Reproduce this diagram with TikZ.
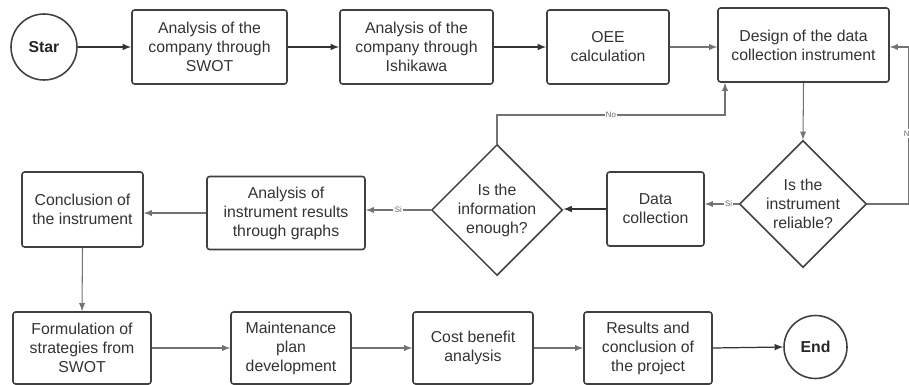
\documentclass[tikz,border=0pt]{standalone}
\usepackage{fontspec}
\setsansfont{Liberation Sans}
\usetikzlibrary{arrows,shapes.geometric}

\tikzset{
  box/.style={draw=black!75, line width=0.9pt, rounded corners=1.5pt, align=center,
    inner sep=2pt, font=\sffamily\fontsize{9}{10.8}\selectfont, text=black!80},
  decision/.style={diamond, draw=black!75, line width=0.9pt, align=center, inner sep=0pt,
    font=\sffamily\fontsize{9}{10.8}\selectfont, text=black!80},
  terminal/.style={circle, draw=black!75, line width=0.9pt, inner sep=0pt,
    font=\sffamily\bfseries\fontsize{9}{10.8}\selectfont, text=black!85},
  flow/.style={->, >=latex, draw=black!80, line width=0.7pt},
  thin flow/.style={->, >=latex, draw=black!55, line width=0.6pt},
  lbl/.style={fill=white, inner sep=0.8pt, font=\sffamily\fontsize{4.5}{5}\selectfont, text=black!60}
}

\begin{document}
\begin{tikzpicture}[x=0.02cm, y=-0.02cm]
\useasboundingbox (0,0) rectangle (909,385);

% first row
\node[terminal, minimum size=1.32cm] (star) at (44,47) {Star};
\node[box, minimum width=3.1cm, minimum height=1.48cm] (swot) at (209.5,47) {Analysis of the\\company through\\SWOT};
\node[box, minimum width=3.06cm, minimum height=1.48cm] (ishikawa) at (416.5,47) {Analysis of the\\company through\\Ishikawa};
\node[box, minimum width=2.44cm, minimum height=1.48cm] (oee) at (608,47) {OEE\\calculation};
\node[box, minimum width=3.42cm, minimum height=1.48cm] (design) at (803.5,45) {Design of the data\\collection instrument};

% second row
\node[decision, minimum width=2.54cm, minimum height=2.54cm] (reliable) at (803,204) {Is the\\instrument\\reliable?};
\node[box, minimum width=1.94cm, minimum height=1.48cm] (data) at (655.5,209) {Data\\collection};
\node[decision, minimum width=2.6cm, minimum height=2.52cm] (enough) at (497,210) {Is the\\information\\enough?};
\node[box, minimum width=3.16cm, minimum height=1.46cm] (graphs) at (286,213) {Analysis of\\instrument results\\through graphs};
\node[box, minimum width=2.42cm, minimum height=1.5cm] (conclusion) at (82.5,209.5) {Conclusion of\\the instrument};

% third row
\node[box, minimum width=2.76cm, minimum height=1.44cm] (strategies) at (82,348) {Formulation of\\strategies from\\SWOT};
\node[box, minimum width=2.4cm, minimum height=1.44cm] (maintenance) at (291,348) {Maintenance\\plan\\development};
\node[box, minimum width=2.4cm, minimum height=1.44cm] (cost) at (473,348) {Cost benefit\\analysis};
\node[box, minimum width=2.56cm, minimum height=1.44cm] (results) at (648,348) {Results and\\conclusion of\\the project};
\node[terminal, minimum size=1.26cm] (end) at (815.5,347) {End};

\coordinate (noturn) at (725,115);
\coordinate (loopdown) at (909,204);
\coordinate (loopup) at (909,47);

\draw[flow] (star) -- (swot);
\draw[flow] (swot) -- (ishikawa);
\draw[flow] (ishikawa) -- (oee);
\draw[thin flow] (oee.east) -- (oee.east -| design.west);
\draw[thin flow] (design.south) -- (reliable.north);
\draw[thin flow] (reliable.west) -- node[lbl, pos=0.3] {Si} (reliable.west -| data.east);
\draw[flow] (data.west) -- (data.west -| enough.east);
\draw[thin flow] (enough.north) |- node[lbl, pos=0.75] {No} (noturn) -- (noturn |- design.south);
\draw[thin flow] (reliable.east) -- (loopdown) -- node[lbl, pos=0.45] {No} (loopup) -- (loopup -| design.east);
\draw[thin flow] (enough.west) -- node[lbl, pos=0.5] {Si} (enough.west -| graphs.east);
\draw[thin flow] (graphs.west) -- (graphs.west -| conclusion.east);
\draw[thin flow] (conclusion.south) -- (strategies.north);
\draw[thin flow] (strategies) -- (maintenance);
\draw[thin flow] (maintenance) -- (cost);
\draw[thin flow] (cost) -- (results);
\draw[flow] (results.east) -- (end.west);
\end{tikzpicture}
\end{document}
